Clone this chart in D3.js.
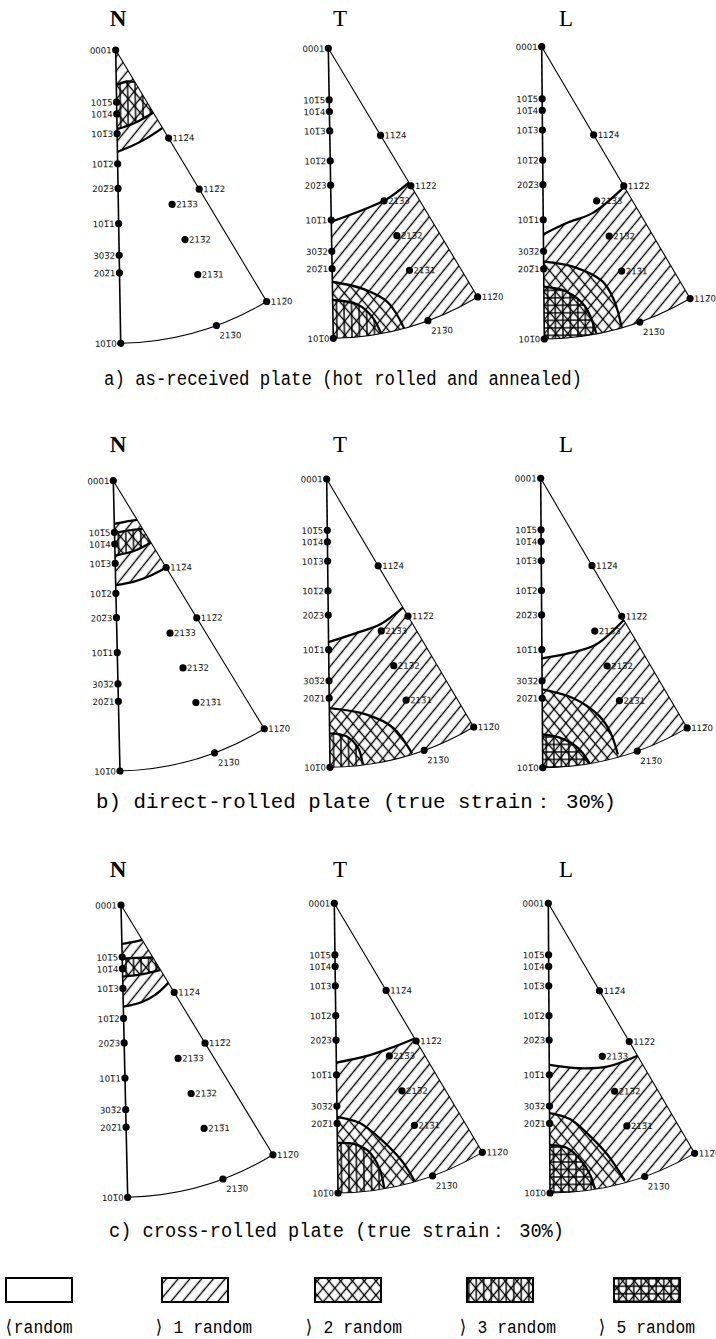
<!DOCTYPE html>
<html>
<head>
<meta charset="utf-8">
<script src="https://cdn.jsdelivr.net/npm/d3@7"></script>
<style>
  body { margin: 0; background: #fff; }
</style>
</head>
<body>
<svg id="chart"></svg>
<script>
const d3 = window.d3

// poles of the hexagonal standard triangle: r from 0001 (0) to 10-10 (1), azimuth in degrees from 10-10 toward 11-20
const poleLabels = ['0001', '101\u03055', '101\u03054', '101\u03053', '101\u03052', '202\u03053', '101\u03051', '303\u03052', '202\u03051', '101\u03050',
  '112\u03054', '112\u03052', '112\u03050', '213\u03053', '213\u03052', '213\u03051', '213\u03050']
const poleR = [0, 0.178, 0.218, 0.285, 0.388, 0.472, 0.592, 0.70, 0.76, 1, 0.35, 0.553, 1, 0.56, 0.688, 0.815, 1]
const poleAz = [0, 0, 0, 0, 0, 0, 0, 0, 0, 0, 30, 30, 30, 19.1, 19.1, 19.1, 19.1]

const plotTitles = ['N', 'T', 'L']
const captions = [
  'a) as-received plate (hot rolled and annealed)',
  'b) direct-rolled plate (true strain\uff1a 30%)',
  'c) cross-rolled plate (true strain\uff1a 30%)'
]

// intensity contours, [x, y] in units of the 0001-10-10 length (x right, y down from 0001)
const regionsAN = [
  {level: 1, lower: [[0, 0.347], [0.045, 0.33], [0.1, 0.303], [0.155, 0.268]]},
  {level: 3, upper: [[0, 0.12], [0.035, 0.108], [0.064, 0.11]], lower: [[0, 0.27], [0.06, 0.25], [0.125, 0.215]]}
]
const regionsAT = [
  {level: 1, upper: [[0, 0.598], [0.115, 0.557], [0.195, 0.522], [0.27, 0.468]]},
  {level: 2, upper: [[0, 0.805], [0.11, 0.833], [0.19, 0.879], [0.245, 0.97]]},
  {level: 3, upper: [[0, 0.868], [0.086, 0.885], [0.137, 0.931], [0.165, 0.986]]}
]
const regionsAL = [
  {level: 1, upper: [[0, 0.642], [0.08, 0.604], [0.17, 0.57], [0.278, 0.482]]},
  {level: 2, upper: [[0, 0.735], [0.1, 0.753], [0.2, 0.804], [0.24, 0.87], [0.265, 0.962]]},
  {level: 5, upper: [[0, 0.821], [0.076, 0.838], [0.14, 0.889], [0.178, 0.982]]}
]
const regionsBN = [
  {level: 1, upper: [[0, 0.149], [0.04, 0.142], [0.079, 0.137]], lower: [[0, 0.36], [0.06, 0.35], [0.12, 0.33], [0.175, 0.303]]},
  {level: 3, upper: [[0, 0.18], [0.05, 0.172], [0.097, 0.168]], lower: [[0, 0.258], [0.07, 0.242], [0.125, 0.216]]}
]
const regionsBT = [
  {level: 1, upper: [[0, 0.566], [0.098, 0.535], [0.18, 0.506], [0.26, 0.448]]},
  {level: 2, upper: [[0, 0.795], [0.127, 0.818], [0.22, 0.865], [0.285, 0.955]]},
  {level: 3, upper: [[0, 0.882], [0.058, 0.893], [0.098, 0.934], [0.114, 0.992]]}
]
const regionsBL = [
  {level: 1, upper: [[0, 0.622], [0.094, 0.605], [0.187, 0.576], [0.285, 0.49]]},
  {level: 2, upper: [[0, 0.729], [0.106, 0.76], [0.198, 0.824], [0.235, 0.88], [0.26, 0.956]]},
  {level: 5, upper: [[0, 0.885], [0.066, 0.899], [0.123, 0.933], [0.162, 0.985]]}
]
const regionsCN = [
  {level: 1, upper: [[0, 0.133], [0.04, 0.127], [0.07, 0.121]], lower: [[0, 0.348], [0.06, 0.335], [0.11, 0.31], [0.156, 0.27]]},
  {level: 3, upper: [[0, 0.183], [0.05, 0.182], [0.105, 0.182]], lower: [[0, 0.245], [0.07, 0.238], [0.13, 0.225]]}
]
const regionsCT = [
  {level: 1, upper: [[0, 0.55], [0.1, 0.53], [0.18, 0.505], [0.272, 0.47]]},
  {level: 2, upper: [[0, 0.737], [0.08, 0.76], [0.15, 0.816], [0.22, 0.89], [0.265, 0.962]]},
  {level: 3, upper: [[0, 0.827], [0.06, 0.832], [0.11, 0.86], [0.145, 0.92], [0.16, 0.987]]}
]
const regionsCL = [
  {level: 1, upper: [[0, 0.558], [0.1, 0.57], [0.2, 0.565], [0.305, 0.528]]},
  {level: 2, upper: [[0, 0.724], [0.07, 0.745], [0.135, 0.8], [0.2, 0.87], [0.258, 0.958]]},
  {level: 5, upper: [[0, 0.834], [0.06, 0.845], [0.105, 0.885], [0.14, 0.94], [0.155, 0.987]]}
]
const panelRegions = [
  [regionsAN, regionsAT, regionsAL],
  [regionsBN, regionsBT, regionsBL],
  [regionsCN, regionsCT, regionsCL]
]

const legendLevels = [0, 1, 2, 3, 5]
const legendLabels = ['\u27e8random', '\u27e9 1 random', '\u27e9 2 random', '\u27e9 3 random', '\u27e9 5 random']

// layout: 0001 and 10-10 corners of every triangle (pixels)
const anchors = [
  [[[115.7, 50], [120.7, 343.3]], [[328.3, 48.3], [333.3, 338.3]], [[541.7, 46.7], [544.3, 339]]],
  [[[113.3, 480.7], [120, 771]], [[326.7, 479], [330, 767.3]], [[540.7, 478.3], [542.7, 767.7]]],
  [[[121, 905], [127.7, 1197.3]], [[334.3, 903.3], [338, 1193]], [[548.3, 903.3], [550, 1193]]]
]
const titleX = [118, 340, 566]
const titleY = [26, 452, 877]
const captionX = [104, 96, 109]
const captionY = [385, 808, 1237]
const captionW = [478, 520, 455]
const legendBoxX = [6, 162, 315, 467, 614]
const legendTextX = [4, 154, 304, 458, 597]

const svg = d3.select('#chart').attr('width', 716).attr('height', 1339)
svg.append('rect').attr('width', 716).attr('height', 1339).attr('fill', '#fff')
const defs = svg.append('defs')

// hatch patterns: one set of lines per intensity level
const hatchSpec = {1: {angle: 40, step: 9}, 2: {angle: -40, step: 9}, 3: {angle: 0, step: 7.5}, 5: {angle: 90, step: 7.5}}
Object.keys(hatchSpec).forEach(level => {
  const spec = hatchSpec[level]
  defs.append('pattern')
    .attr('id', `hatch${level}`)
    .attr('patternUnits', 'userSpaceOnUse')
    .attr('width', spec.step).attr('height', spec.step)
    .attr('patternTransform', `rotate(${spec.angle})`)
    .append('line')
    .attr('x1', spec.step / 2).attr('y1', -1)
    .attr('x2', spec.step / 2).attr('y2', spec.step + 1)
    .attr('stroke', '#000').attr('stroke-width', 1.4)
})
const levelsUpTo = level => [1, 2, 3, 5].filter(l => l <= level)

function ext (p, q, k) {
  const dx = p[0] - q[0]
  const dy = p[1] - q[1]
  const len = Math.hypot(dx, dy)
  return [p[0] + dx / len * k, p[1] + dy / len * k]
}

function drawPanel (row, col) {
  const [p0, p1] = anchors[row][col]
  const H = Math.hypot(p1[0] - p0[0], p1[1] - p0[1])
  const tilt = Math.atan2(p1[0] - p0[0], p1[1] - p0[1]) * 180 / Math.PI
  const x = d3.scaleLinear().domain([0, 1]).range([0, H])
  const y = d3.scaleLinear().domain([0, 1]).range([0, H])
  const g = svg.append('g').attr('transform', `translate(${p0[0]},${p0[1]}) rotate(${-tilt})`)

  const outline = d3.path()
  outline.moveTo(x(0), y(0))
  outline.lineTo(x(0), y(1))
  outline.arc(x(0), y(0), H, Math.PI / 2, Math.PI / 3, true)
  outline.closePath()
  const clipId = `clip${row}${col}`
  defs.append('clipPath').attr('id', clipId).append('path').attr('d', outline.toString())

  const line = d3.line().x(d => x(d[0])).y(d => y(d[1])).curve(d3.curveCatmullRom.alpha(0.5))
  const P = p => `${x(p[0])},${y(p[1])}`
  const seg = pts => line(pts).replace(/^M/, 'L')

  function regionPath (reg) {
    let d = ''
    if (reg.upper) {
      const u = reg.upper
      const n = u.length
      d += `M${P(ext(u[0], u[1], 0.2))}` + seg(u) + `L${P(ext(u[n - 1], u[n - 2], 0.2))}`
    } else {
      d += `M${P([-0.6, -0.6])}L${P([1.6, -0.6])}`
    }
    if (reg.lower) {
      const w = reg.lower.slice().reverse()
      const n = w.length
      d += `L${P(ext(w[0], w[1], 0.2))}` + seg(w) + `L${P(ext(w[n - 1], w[n - 2], 0.2))}`
    } else {
      d += `L${P([1.6, 1.6])}L${P([-0.6, 1.6])}`
    }
    return d + 'Z'
  }

  const clipped = g.append('g').attr('clip-path', `url(#${clipId})`)
  const regions = panelRegions[row][col]
  regions.forEach(reg => {
    const lower = regions.filter(r => r.level < reg.level).map(r => r.level)
    levelsUpTo(reg.level).filter(l => !lower.some(lv => lv >= l)).forEach(l => {
      clipped.append('path').attr('d', regionPath(reg)).attr('fill', `url(#hatch${l})`)
    })
  })
  regions.forEach(reg => {
    [reg.upper, reg.lower].filter(Boolean).forEach(pts => {
      clipped.append('path').attr('d', line(pts))
        .attr('fill', 'none').attr('stroke', '#000').attr('stroke-width', 2.3)
    })
  })

  // triangle edges
  g.append('line').attr('x1', x(0)).attr('y1', y(0)).attr('x2', x(0)).attr('y2', y(1))
    .attr('stroke', '#000').attr('stroke-width', 1.6)
  g.append('line').attr('x1', x(0)).attr('y1', y(0))
    .attr('x2', x(Math.sin(Math.PI / 6))).attr('y2', y(Math.cos(Math.PI / 6)))
    .attr('stroke', '#000').attr('stroke-width', 1.1)
  const arc = d3.path()
  arc.arc(x(0), y(0), H, Math.PI / 2, Math.PI / 3, true)
  g.append('path').attr('d', arc.toString()).attr('fill', 'none').attr('stroke', '#000').attr('stroke-width', 1)

  // poles
  poleLabels.forEach((label, i) => {
    const a = poleAz[i] * Math.PI / 180
    const px = x(poleR[i] * Math.sin(a))
    const py = y(poleR[i] * Math.cos(a))
    g.append('circle').attr('cx', px).attr('cy', py).attr('r', 3.6).attr('fill', '#000')
    const t = g.append('text').text(label)
      .attr('font-family', 'DejaVu Sans, sans-serif').attr('font-size', 8.6).attr('fill', '#111')
    if (poleAz[i] === 0) {
      t.attr('x', px - 4).attr('y', py + 3.2).attr('text-anchor', 'end')
    } else if (poleR[i] === 1 && poleAz[i] < 30) {
      t.attr('x', px + 3).attr('y', py + 13)
    } else {
      t.attr('x', px + 4).attr('y', py + 3.2)
    }
  })
}

plotTitles.forEach((title, col) => {
  titleY.forEach(ty => {
    svg.append('text').text(title)
      .attr('x', titleX[col]).attr('y', ty).attr('text-anchor', 'middle')
      .attr('font-family', 'Liberation Serif, serif').attr('font-size', 23)
      .attr('font-weight', title === 'N' ? 'bold' : 'normal')
  })
})

for (let row = 0; row < 3; row++) {
  for (let col = 0; col < 3; col++) drawPanel(row, col)
}

captions.forEach((c, i) => {
  svg.append('text').text(c)
    .attr('x', captionX[i]).attr('y', captionY[i])
    .attr('font-family', 'Liberation Mono, DejaVu Sans Mono, monospace').attr('font-size', 20)
    .attr('textLength', captionW[i]).attr('lengthAdjust', 'spacingAndGlyphs')
})

// legend
legendLevels.forEach((level, i) => {
  const bx = legendBoxX[i]
  levelsUpTo(level).forEach(l => {
    svg.append('rect').attr('x', bx).attr('y', 1278).attr('width', 66).attr('height', 24)
      .attr('fill', `url(#hatch${l})`)
  })
  svg.append('rect').attr('x', bx).attr('y', 1278).attr('width', 66).attr('height', 24)
    .attr('fill', 'none').attr('stroke', '#000').attr('stroke-width', 2)
  svg.append('text').text(legendLabels[i])
    .attr('x', legendTextX[i]).attr('y', 1333)
    .attr('font-family', 'Liberation Mono, DejaVu Sans Mono, monospace').attr('font-size', 19)
    .attr('textLength', legendLabels[i].length * 9.8)
    .attr('lengthAdjust', 'spacingAndGlyphs')
})
</script>
</body>
</html>
